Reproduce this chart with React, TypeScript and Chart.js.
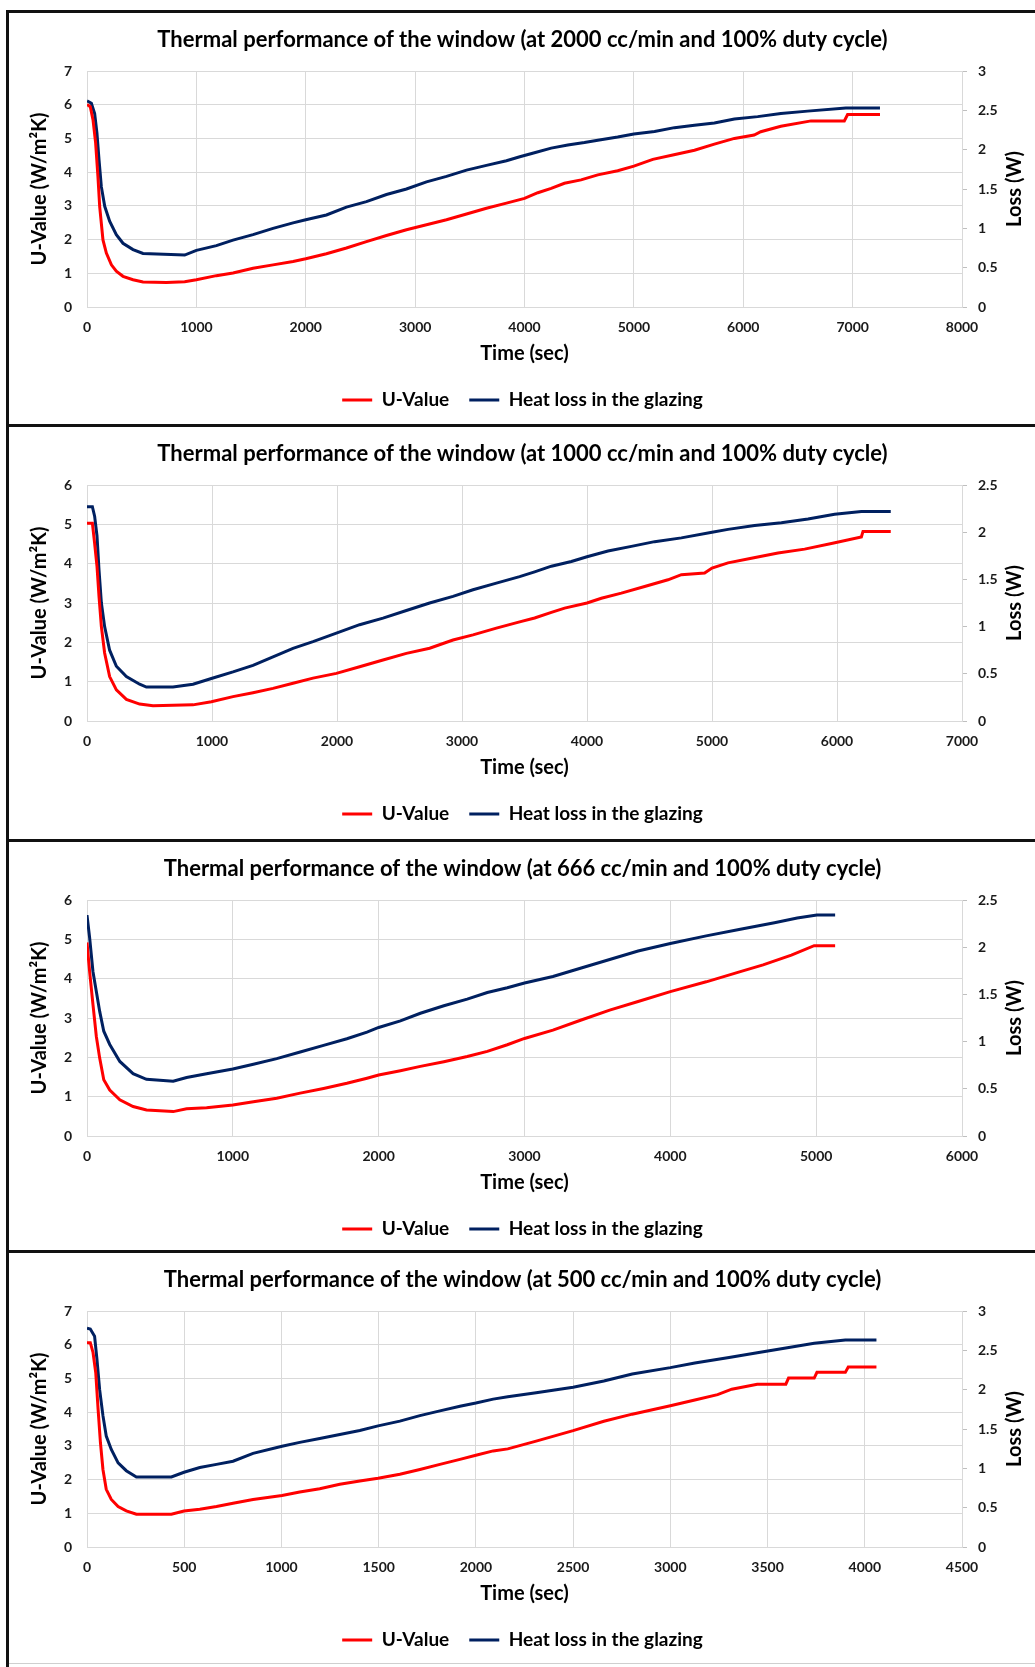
import React, { useEffect, useRef } from "react";
import { Chart, registerables } from "chart.js";

Chart.register(...registerables);

// ---------- DATA ----------
const panelTitles = [
  "Thermal performance of the window (at 2000 cc/min and 100% duty cycle)",
  "Thermal performance of the window (at 1000 cc/min and 100% duty cycle)",
  "Thermal performance of the window (at 666 cc/min and 100% duty cycle)",
  "Thermal performance of the window (at 500 cc/min and 100% duty cycle)",
];
const seriesNames = ["U-Value", "Heat loss in the glazing"];
const xAxisTitle = "Time (sec)";
const yAxisTitle = "U-Value (W/m\u00B2K)";
const y1AxisTitle = "Loss (W)";

const xMaxes = [8000, 7000, 6000, 4500];
const xSteps = [1000, 1000, 1000, 500];
const yMaxes = [7, 6, 6, 7];
const y1Maxes = [3, 2.5, 2.5, 3];

// Panel 1 (2000 cc/min)
const p1UTime = [0, 30, 55, 79, 100, 116, 146, 177, 223, 268, 329, 421, 512, 726, 893, 1000, 1183, 1335, 1518, 1701, 1884, 2000, 2189, 2372, 2555, 2738, 2921, 3104, 3287, 3470, 3652, 3835, 4000, 4122, 4244, 4365, 4517, 4670, 4852, 5000, 5173, 5356, 5554, 5736, 5919, 6100, 6160, 6344, 6620, 6924, 6954, 7250];
const p1U = [6.01, 5.94, 5.55, 4.86, 3.87, 2.98, 1.99, 1.6, 1.25, 1.06, 0.91, 0.81, 0.74, 0.73, 0.75, 0.81, 0.93, 1.01, 1.15, 1.25, 1.35, 1.43, 1.58, 1.75, 1.94, 2.12, 2.29, 2.44, 2.59, 2.76, 2.93, 3.08, 3.22, 3.39, 3.52, 3.67, 3.77, 3.92, 4.04, 4.18, 4.38, 4.51, 4.65, 4.83, 5.0, 5.1, 5.2, 5.36, 5.52, 5.52, 5.71, 5.71];
const p1LossTime = [0, 40, 70, 91, 110, 131, 162, 207, 268, 329, 421, 512, 893, 1000, 1183, 1335, 1518, 1701, 1884, 2000, 2189, 2372, 2555, 2738, 2921, 3104, 3287, 3470, 3652, 3835, 3957, 4091, 4244, 4396, 4548, 4670, 4852, 5000, 5189, 5371, 5554, 5736, 5919, 6132, 6344, 6588, 6938, 7250];
const p1Loss = [2.62, 2.59, 2.46, 2.21, 1.87, 1.53, 1.28, 1.09, 0.92, 0.81, 0.73, 0.68, 0.66, 0.72, 0.78, 0.85, 0.92, 1.0, 1.07, 1.11, 1.17, 1.27, 1.34, 1.43, 1.5, 1.59, 1.66, 1.74, 1.8, 1.86, 1.91, 1.96, 2.02, 2.06, 2.09, 2.12, 2.16, 2.2, 2.23, 2.28, 2.31, 2.34, 2.39, 2.42, 2.46, 2.49, 2.53, 2.53];

// Panel 2 (1000 cc/min)
const p2UTime = [0, 43, 61, 80, 96, 115, 141, 181, 235, 315, 421, 528, 848, 995, 1168, 1328, 1488, 1648, 1808, 1995, 2181, 2368, 2555, 2741, 2928, 3088, 3275, 3461, 3581, 3715, 3821, 4000, 4115, 4275, 4461, 4648, 4755, 4941, 5000, 5128, 5315, 5528, 5741, 5965, 6195, 6208, 6430];
const p2U = [5.03, 5.03, 4.52, 3.93, 3.17, 2.4, 1.73, 1.13, 0.79, 0.55, 0.43, 0.39, 0.41, 0.49, 0.62, 0.72, 0.83, 0.96, 1.09, 1.21, 1.38, 1.55, 1.72, 1.85, 2.06, 2.19, 2.36, 2.52, 2.62, 2.76, 2.87, 3.0, 3.12, 3.25, 3.42, 3.59, 3.72, 3.76, 3.89, 4.02, 4.14, 4.27, 4.37, 4.52, 4.68, 4.82, 4.82];
const p2LossTime = [0, 43, 61, 80, 96, 115, 141, 181, 235, 315, 421, 475, 688, 848, 995, 1168, 1328, 1488, 1648, 1808, 1995, 2181, 2368, 2555, 2741, 2928, 3088, 3275, 3461, 3581, 3715, 3875, 4000, 4168, 4355, 4541, 4755, 5000, 5128, 5341, 5555, 5768, 5981, 6195, 6430];
const p2Loss = [2.27, 2.27, 2.17, 1.96, 1.6, 1.25, 1.0, 0.75, 0.58, 0.47, 0.39, 0.36, 0.36, 0.39, 0.45, 0.52, 0.59, 0.68, 0.77, 0.84, 0.93, 1.02, 1.09, 1.17, 1.25, 1.32, 1.39, 1.46, 1.53, 1.58, 1.64, 1.69, 1.74, 1.8, 1.85, 1.9, 1.94, 2.0, 2.03, 2.07, 2.1, 2.14, 2.19, 2.22, 2.22];

// Panel 3 (666 cc/min)
const p3UTime = [0, 18, 41, 64, 87, 115, 156, 225, 316, 408, 499, 591, 683, 820, 1000, 1141, 1301, 1462, 1622, 1782, 1920, 2000, 2149, 2286, 2447, 2607, 2745, 2882, 3000, 3195, 3389, 3584, 3779, 4000, 4246, 4480, 4636, 4830, 4986, 5130];
const p3U = [4.92, 4.18, 3.34, 2.53, 1.98, 1.43, 1.17, 0.92, 0.75, 0.66, 0.64, 0.62, 0.69, 0.72, 0.79, 0.87, 0.96, 1.09, 1.21, 1.34, 1.47, 1.55, 1.66, 1.77, 1.89, 2.02, 2.15, 2.32, 2.48, 2.69, 2.95, 3.2, 3.42, 3.67, 3.92, 4.18, 4.35, 4.6, 4.84, 4.84];
const p3LossTime = [0, 18, 41, 64, 87, 115, 156, 225, 316, 408, 591, 683, 820, 1000, 1141, 1301, 1462, 1622, 1782, 1920, 2000, 2149, 2286, 2447, 2607, 2745, 2882, 3000, 3195, 3389, 3584, 3779, 4000, 4246, 4480, 4714, 4870, 5005, 5130];
const p3Loss = [2.34, 2.1, 1.74, 1.53, 1.32, 1.11, 0.97, 0.79, 0.66, 0.6, 0.58, 0.62, 0.66, 0.71, 0.76, 0.82, 0.89, 0.96, 1.03, 1.1, 1.15, 1.22, 1.3, 1.38, 1.45, 1.52, 1.57, 1.62, 1.69, 1.78, 1.87, 1.96, 2.04, 2.12, 2.19, 2.26, 2.31, 2.34, 2.34];

// Panel 4 (500 cc/min)
const p4UTime = [0, 17, 31, 45, 57, 69, 82, 99, 125, 160, 202, 254, 434, 499, 580, 666, 751, 854, 1003, 1094, 1197, 1300, 1403, 1497, 1609, 1712, 1815, 1918, 2000, 2089, 2164, 2310, 2500, 2658, 2804, 3000, 3126, 3243, 3316, 3447, 3594, 3608, 3740, 3754, 3900, 3915, 4060];
const p4U = [6.06, 6.06, 5.77, 5.17, 4.09, 3.1, 2.3, 1.71, 1.41, 1.2, 1.07, 0.97, 0.97, 1.07, 1.12, 1.2, 1.3, 1.41, 1.53, 1.63, 1.73, 1.86, 1.96, 2.04, 2.16, 2.3, 2.45, 2.6, 2.72, 2.85, 2.91, 3.14, 3.45, 3.73, 3.94, 4.19, 4.36, 4.52, 4.68, 4.83, 4.83, 5.01, 5.01, 5.18, 5.18, 5.34, 5.34];
const p4LossTime = [0, 17, 39, 51, 65, 82, 99, 125, 160, 202, 254, 434, 499, 580, 666, 751, 854, 1003, 1094, 1197, 1300, 1403, 1497, 1609, 1712, 1815, 1918, 2000, 2089, 2164, 2310, 2500, 2658, 2804, 3000, 3126, 3302, 3447, 3594, 3740, 3900, 4060];
const p4Loss = [2.78, 2.77, 2.68, 2.39, 2.0, 1.67, 1.41, 1.24, 1.07, 0.97, 0.89, 0.89, 0.95, 1.01, 1.05, 1.09, 1.19, 1.28, 1.33, 1.38, 1.43, 1.48, 1.54, 1.6, 1.67, 1.73, 1.79, 1.83, 1.88, 1.91, 1.96, 2.03, 2.11, 2.2, 2.28, 2.34, 2.41, 2.47, 2.53, 2.59, 2.63, 2.63];

const uTimes = [p1UTime, p2UTime, p3UTime, p4UTime];
const uValues = [p1U, p2U, p3U, p4U];
const lossTimes = [p1LossTime, p2LossTime, p3LossTime, p4LossTime];
const lossValues = [p1Loss, p2Loss, p3Loss, p4Loss];

// ---------- STYLE ----------
const FONT = "Lato, 'Open Sans', sans-serif";
const RED = "#FF0000";
const NAVY = "#002060";
const GRID = "#d9d9d9";
const TEXT = "#000000";
const TICK_TEXT = "#1a1a1a";

const CANVAS_W = 1025;
const CANVAS_H = 410;
const panelTops = [13, 427, 842, 1253];
const borderTops = [10, 424, 839, 1250];

const zip = (xs: number[], ys: number[]) => xs.map((x, i) => ({ x, y: ys[i] }));
const numLabel = (v: any) => String(Number(v));

const rightTitlePlugin = {
  id: "rightTitle",
  afterDraw(chart: any, _args: any, opts: any) {
    const { ctx, chartArea } = chart;
    ctx.save();
    ctx.translate(opts.x, (chartArea.top + chartArea.bottom) / 2);
    ctx.rotate(-Math.PI / 2);
    ctx.font = `bold ${opts.size}px ${FONT}`;
    ctx.fillStyle = TEXT;
    ctx.textAlign = "center";
    ctx.textBaseline = "middle";
    ctx.fillText(opts.text, 0, 0);
    ctx.restore();
  },
};

function Panel({ index }: { index: number }) {
  const ref = useRef<HTMLCanvasElement | null>(null);
  useEffect(() => {
    let chart: Chart | null = null;
    let cancelled = false;
    const build = () => {
      if (cancelled || !ref.current) return;
      chart = new Chart(ref.current, {
        type: "line",
        data: {
          datasets: [
            {
              label: seriesNames[0],
              data: zip(uTimes[index], uValues[index]),
              borderColor: RED,
              backgroundColor: RED,
              borderWidth: 3,
              pointRadius: 0,
              tension: 0,
              yAxisID: "y",
            },
            {
              label: seriesNames[1],
              data: zip(lossTimes[index], lossValues[index]),
              borderColor: NAVY,
              backgroundColor: NAVY,
              borderWidth: 3,
              pointRadius: 0,
              tension: 0,
              yAxisID: "y1",
            },
          ],
        },
        options: {
          animation: false,
          responsive: false,
          devicePixelRatio: 1,
          layout: { padding: { left: 0, right: 0, top: 0, bottom: 3.5 } },
          scales: {
            x: {
              type: "linear",
              min: 0,
              max: xMaxes[index],
              afterFit: (s: any) => {
                s.height = 63.5;
              },
              ticks: {
                stepSize: xSteps[index],
                padding: 12,
                color: TICK_TEXT,
                font: { family: FONT, size: 14, weight: "bold" },
                callback: numLabel,
                maxRotation: 0,
              },
              grid: { color: GRID, lineWidth: 1, drawTicks: false },
              border: { display: true, color: GRID, width: 1 },
              title: {
                display: true,
                text: xAxisTitle,
                color: TEXT,
                font: { family: FONT, size: 20, weight: "bold" },
                padding: { top: 0, bottom: 5 },
              },
            },
            y: {
              type: "linear",
              position: "left",
              min: 0,
              max: yMaxes[index],
              afterFit: (s: any) => {
                s.width = 77;
              },
              ticks: {
                stepSize: 1,
                padding: 15,
                color: TICK_TEXT,
                font: { family: FONT, size: 14, weight: "bold" },
                callback: numLabel,
              },
              grid: { color: GRID, lineWidth: 1, drawTicks: false },
              border: { display: true, color: GRID, width: 1 },
              title: {
                display: true,
                text: yAxisTitle,
                color: TEXT,
                font: { family: FONT, size: 20, weight: "bold" },
                padding: { top: 18, bottom: 0 },
              },
            },
            y1: {
              type: "linear",
              position: "right",
              min: 0,
              max: y1Maxes[index],
              afterFit: (s: any) => {
                s.width = 73;
              },
              ticks: {
                stepSize: 0.5,
                padding: 11,
                color: TICK_TEXT,
                font: { family: FONT, size: 14, weight: "bold" },
                callback: numLabel,
              },
              grid: {
                drawOnChartArea: false,
                drawTicks: true,
                tickLength: 5,
                tickColor: "#bfbfbf",
                color: GRID,
              },
              border: { display: true, color: GRID, width: 1 },
              title: { display: false },
            },
          },
          plugins: {
            title: {
              display: true,
              text: panelTitles[index],
              color: TEXT,
              font: { family: FONT, size: 22, weight: "bold", lineHeight: 1.2 },
              padding: { top: 13.8, bottom: 17.8 },
            },
            legend: {
              display: true,
              position: "bottom",
              labels: {
                boxWidth: 30,
                boxHeight: 3,
                padding: 20,
                color: TEXT,
                font: { family: FONT, size: 19, weight: "bold" },
                generateLabels: (c: any) =>
                  (Chart.defaults.plugins.legend.labels as any)
                    .generateLabels(c)
                    .map((l: any) => ({ ...l, lineWidth: 0 })),
              },
            },
            tooltip: { enabled: false },
            rightTitle: { text: y1AxisTitle, x: 1005, size: 20 },
          } as any,
        },
        plugins: [rightTitlePlugin],
      });
    };
    const fontsReady = (document as any).fonts
      ? Promise.all([
          (document as any).fonts.load(`bold 20px Lato`),
          (document as any).fonts.load(`bold 14px Lato`),
        ]).catch(() => null)
      : Promise.resolve(null);
    fontsReady.then(build);
    return () => {
      cancelled = true;
      if (chart) chart.destroy();
    };
  }, [index]);

  return (
    <canvas
      ref={ref}
      width={CANVAS_W}
      height={CANVAS_H}
      style={{
        position: "absolute",
        left: 10,
        top: panelTops[index],
        width: CANVAS_W,
        height: CANVAS_H,
      }}
    />
  );
}

export default function App() {
  useEffect(() => {
    document.body.style.margin = "0";
  }, []);
  return (
    <div
      style={{
        position: "relative",
        width: 1035,
        height: 1667,
        background: "#ffffff",
        overflow: "hidden",
      }}
    >
      {borderTops.map((t, i) => (
        <div
          key={"b" + i}
          style={{ position: "absolute", left: 6, top: t, width: 1029, height: 3, background: "#111" }}
        />
      ))}
      <div style={{ position: "absolute", left: 6, top: 10, width: 3, height: 1657, background: "#111" }} />
      <div style={{ position: "absolute", left: 9, top: 1663, width: 1026, height: 1, background: "#cfcfcf" }} />
      {[0, 1, 2, 3].map((i) => (
        <Panel key={i} index={i} />
      ))}
    </div>
  );
}
